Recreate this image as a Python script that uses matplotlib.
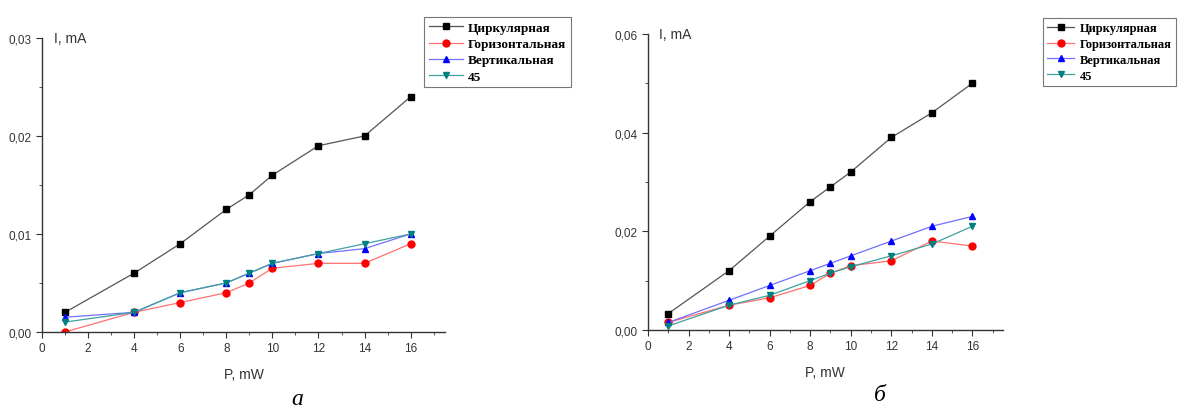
import matplotlib
matplotlib.use("Agg")
import matplotlib.pyplot as plt
from matplotlib.ticker import MultipleLocator, FuncFormatter

# ── Data ──
P_MW = [1, 4, 6, 8, 9, 10, 12, 14, 16]
SERIES_NAMES = ["Циркулярная", "Горизонтальная", "Вертикальная", "45"]

A_CIRC = [0.002, 0.006, 0.009, 0.0125, 0.014, 0.016, 0.019, 0.020, 0.024]
A_HORIZ = [0.0, 0.002, 0.003, 0.004, 0.005, 0.0065, 0.007, 0.007, 0.009]
A_VERT = [0.0015, 0.002, 0.004, 0.005, 0.006, 0.007, 0.008, 0.0085, 0.010]
A_45 = [0.001, 0.002, 0.004, 0.005, 0.006, 0.007, 0.008, 0.009, 0.010]

B_CIRC = [0.0033, 0.012, 0.019, 0.026, 0.029, 0.032, 0.039, 0.044, 0.050]
B_HORIZ = [0.0015, 0.005, 0.0065, 0.009, 0.0115, 0.013, 0.014, 0.018, 0.017]
B_VERT = [0.0015, 0.006, 0.009, 0.012, 0.0135, 0.015, 0.018, 0.021, 0.023]
B_45 = [0.0008, 0.005, 0.007, 0.010, 0.0115, 0.0128, 0.015, 0.0174, 0.021]

# ── Styles ──
MARKERS = ["s", "o", "^", "v"]
MARKER_COLORS = ["#000000", "#ff0000", "#0000ff", "#008080"]
LINE_COLORS = ["#555555", "#ff7070", "#7070ff", "#40a0a0"]
AXIS_COLOR = "#333333"

fig = plt.figure(figsize=(11.79, 4.10), dpi=100)
ax_a = fig.add_axes([0.0356, 0.188, 0.342, 0.717])
ax_b = fig.add_axes([0.5496, 0.193, 0.301, 0.722])


def comma_fmt(v, pos):
    return f"{v:.2f}".replace(".", ",")


def style_axis(ax, ymax, ystep):
    for s in ("top", "right"):
        ax.spines[s].set_visible(False)
    for s in ("left", "bottom"):
        ax.spines[s].set_color(AXIS_COLOR)
        ax.spines[s].set_linewidth(1.0)
    ax.set_xlim(0, 17.5)
    ax.set_ylim(0, ymax)
    ax.xaxis.set_major_locator(MultipleLocator(2))
    ax.xaxis.set_minor_locator(MultipleLocator(1))
    ax.yaxis.set_major_locator(MultipleLocator(ystep))
    ax.yaxis.set_minor_locator(MultipleLocator(ystep / 2))
    ax.yaxis.set_major_formatter(FuncFormatter(comma_fmt))
    ax.tick_params(which="both", direction="out", colors=AXIS_COLOR,
                   labelsize=8.5, labelcolor=AXIS_COLOR)
    ax.tick_params(which="major", length=4)
    ax.tick_params(which="minor", length=2)
    for lab in ax.get_xticklabels() + ax.get_yticklabels():
        lab.set_family("Liberation Sans")
    ax.text(0.03, 1.0, "I, mA", transform=ax.transAxes, fontsize=10,
            family="Liberation Sans", color=AXIS_COLOR, va="center", ha="left")
    ax.set_xlabel("P, mW", fontsize=10, family="Liberation Sans",
                  color=AXIS_COLOR, labelpad=9)
    ax.patch.set_visible(False)


def plot_panel(ax, series):
    handles = []
    for ys, name, m, mc, lc in zip(series, SERIES_NAMES, MARKERS,
                                   MARKER_COLORS, LINE_COLORS):
        h, = ax.plot(P_MW, ys, color=lc, linewidth=0.9, marker=m,
                     markersize=5, markerfacecolor=mc, markeredgecolor=mc,
                     label=name)
        handles.append(h)
    return handles


h_a = plot_panel(ax_a, [A_CIRC, A_HORIZ, A_VERT, A_45])
h_b = plot_panel(ax_b, [B_CIRC, B_HORIZ, B_VERT, B_45])
style_axis(ax_a, 0.03, 0.01)
style_axis(ax_b, 0.06, 0.02)

leg_kw = dict(frameon=True, fancybox=False, handletextpad=0.4,
              borderpad=0.35, labelspacing=0.3)
leg_a = fig.legend(handles=h_a, loc="upper left", handlelength=2.6,
                   bbox_to_anchor=(0.354, 0.972),
                   prop={"family": "Liberation Serif", "weight": "bold", "size": 9.5},
                   **leg_kw)
leg_b = fig.legend(handles=h_b, loc="upper left", handlelength=2.2,
                   bbox_to_anchor=(0.879, 0.969),
                   prop={"family": "Liberation Serif", "weight": "bold", "size": 9},
                   **leg_kw)
for leg in (leg_a, leg_b):
    leg.get_frame().set_edgecolor("#555555")
    leg.get_frame().set_linewidth(0.8)

fig.text(0.252, 0.0, "а", fontsize=17, family="Liberation Serif",
         style="italic", ha="center", va="bottom")
fig.text(0.746, 0.01, "б", fontsize=17, family="Liberation Serif",
         style="italic", ha="center", va="bottom")

fig.savefig("out.png", dpi=100)
